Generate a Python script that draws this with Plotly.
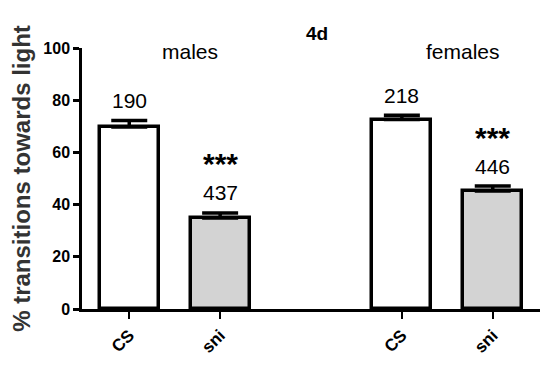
import plotly.graph_objects as go

categories = ["CS", "sni", "CS", "sni"]
positions = [0, 1, 3, 4]
means = [69.7, 34.9, 72.6, 45.2]
sems = [2.5, 1.9, 1.6, 1.9]
n_labels = ["190", "437", "218", "446"]
sig_labels = ["", "***", "", "***"]
fills = ["white", "#d3d3d3", "white", "#d3d3d3"]
groups = ["males", "females"]
group_centers = [0.67, 3.67]

fig = go.Figure()
fig.add_trace(go.Bar(
    x=positions, y=means, width=0.65,
    marker=dict(color=fills, line=dict(color="black", width=3.5)),
    error_y=dict(type="data", array=sems, arrayminus=[0]*4, symmetric=False,
                 color="black", thickness=3.5, width=18),
    showlegend=False, hoverinfo="skip",
))

ann = []
for p, m, s, n, sig in zip(positions, means, sems, n_labels, sig_labels):
    ann.append(dict(x=p, y=m + s, text=n, showarrow=False, yanchor="middle", yshift=20,
                    font=dict(family="Liberation Sans, Arial", size=21, color="black")))
    if sig:
        ann.append(dict(x=p, y=m + s, text=sig, showarrow=False, yanchor="middle", yshift=49,
                        font=dict(family="Liberation Sans, Arial", size=30, color="black", weight="bold")))
for g, c in zip(groups, group_centers):
    ann.append(dict(x=c, y=98.5, text=g, showarrow=False, yanchor="middle",
                    font=dict(family="Liberation Sans, Arial", size=21, color="black")))

fig.update_layout(
    width=550, height=374,
    margin=dict(l=82, r=10, t=48, b=65),
    plot_bgcolor="white", paper_bgcolor="white",
    title=dict(text="<b>4d</b>", x=317/550, xanchor="center", y=1-33/374, yanchor="middle",
               font=dict(family="Liberation Sans, Arial", size=19, color="black")),
    annotations=ann,
    bargap=0,
)
fig.update_xaxes(
    range=[-0.52, 4.52], tickmode="array", tickvals=positions, ticktext=categories,
    tickangle=-45, ticks="outside", ticklen=7, tickwidth=2, tickcolor="black",
    showline=True, linecolor="black", linewidth=2.5, showgrid=False, zeroline=False,
    automargin=False,
    tickfont=dict(family="Liberation Sans, Arial", size=17, color="black", weight="bold"),
)
fig.update_yaxes(
    range=[0, 100], tickvals=[0, 20, 40, 60, 80, 100],
    ticks="outside", ticklen=6, tickwidth=2.5, tickcolor="black",
    showline=True, linecolor="black", linewidth=2.5, showgrid=False, zeroline=False,
    automargin=False,
    tickfont=dict(family="Liberation Sans, Arial", size=16, color="black", weight="bold"),
    title=dict(text="% transitions towards light", standoff=6,
               font=dict(family="Liberation Sans, Arial", size=24, color="#333333", weight="bold")),
)

fig.write_html("out.html", config={"displayModeBar": False},
               post_script="document.body.style.margin='0';document.body.style.padding='0';")
